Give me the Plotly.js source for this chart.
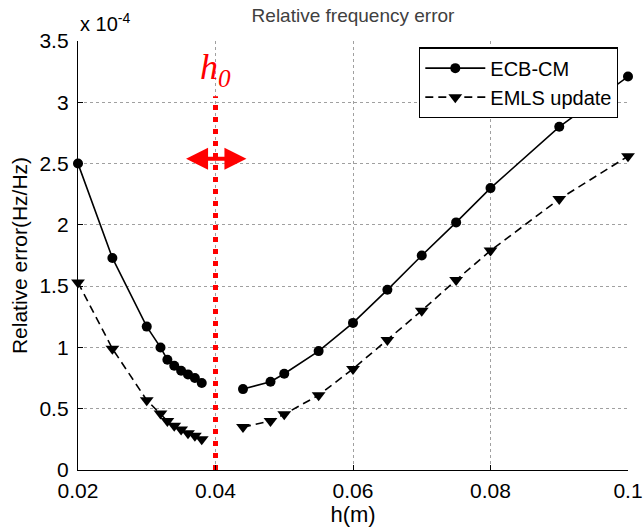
<!DOCTYPE html>
<html>
<head>
<meta charset="utf-8">
<script src="https://cdn.plot.ly/plotly-3.0.1.min.js"></script>
<style>html,body{margin:0;padding:0;background:#fff;}#chart{width:643px;height:531px;}</style>
</head>
<body>
<div id="chart"></div>
<script>
// h (m)
const hValues = [0.02, 0.025, 0.03, 0.032, 0.033, 0.034, 0.035, 0.036, 0.037, 0.038, 0.04, 0.044, 0.048, 0.05, 0.055, 0.06, 0.065, 0.07, 0.075, 0.08, 0.09, 0.1];
// Relative error (x 1e-4), null = gap at h0
const ecbCM = [2.50, 1.73, 1.17, 1.00, 0.90, 0.85, 0.81, 0.78, 0.75, 0.71, null, 0.66, 0.72, 0.785, 0.97, 1.20, 1.47, 1.75, 2.02, 2.30, 2.80, 3.21];
const emlsUpdate = [1.53, 0.99, 0.57, 0.46, 0.40, 0.36, 0.33, 0.30, 0.28, 0.25, null, 0.35, 0.40, 0.455, 0.61, 0.825, 1.06, 1.30, 1.55, 1.79, 2.21, 2.56];
const seriesNames = ['ECB-CM', 'EMLS update'];
const xTicks = [0.02, 0.04, 0.06, 0.08, 0.1];
const xTickText = ['0.02', '0.04', '0.06', '0.08', '0.1'];
const yTicks = [0, 0.5, 1, 1.5, 2, 2.5, 3, 3.5];
const yTickText = ['0', '0.5', '1', '1.5', '2', '2.5', '3', '3.5'];
const h0 = 0.04;
const h0LineTop = 3.05;
const arrowY = 2.54;
const arrowSpan = [0.0355, 0.0445];

const traces = [
  {
    x: hValues, y: ecbCM, name: seriesNames[0], type: 'scatter', mode: 'lines+markers',
    line: {color: '#000', width: 1.6}, marker: {symbol: 'circle', size: 10, color: '#000'},
    cliponaxis: false
  },
  {
    x: hValues, y: emlsUpdate, name: seriesNames[1], type: 'scatter', mode: 'lines+markers',
    line: {color: '#000', width: 1.6, dash: '8px,5px'}, marker: {symbol: 'triangle-down', size: 12, color: '#000'},
    cliponaxis: false
  },
  {
    x: [h0, h0], y: [0, h0LineTop], type: 'scatter', mode: 'lines', showlegend: false,
    line: {color: '#ff0000', width: 5, dash: '5px,7px'}, hoverinfo: 'skip', cliponaxis: false
  }
];

const layout = {
  width: 643, height: 531,
  margin: {l: 78, r: 15, t: 41, b: 61},
  paper_bgcolor: '#fff', plot_bgcolor: '#fff',
  font: {family: 'Arial, Liberation Sans, sans-serif', color: '#000'},
  title: {text: 'Relative frequency error', x: 0.549, xanchor: 'center', y: 0.972, yanchor: 'middle',
          font: {size: 19, color: '#404040'}},
  xaxis: {
    range: [0.02, 0.1], tickvals: xTicks, ticktext: xTickText,
    showline: true, linecolor: '#000', linewidth: 1.2, mirror: false,
    ticks: 'inside', ticklen: 5, tickcolor: '#000',
    showgrid: true, gridcolor: '#a0a0a0', griddash: 'dot', gridwidth: 1,
    zeroline: false, tickfont: {size: 21}, ticklabelstandoff: 2,
    title: {text: 'h(m)', font: {size: 22}, standoff: 1}
  },
  yaxis: {
    range: [0, 3.5], tickvals: yTicks, ticktext: yTickText,
    showline: true, linecolor: '#000', linewidth: 1.2, mirror: false,
    ticks: 'inside', ticklen: 5, tickcolor: '#000',
    showgrid: true, gridcolor: '#a0a0a0', griddash: 'dot', gridwidth: 1,
    zeroline: false, tickfont: {size: 21}, ticklabelstandoff: 4,
    title: {text: 'Relative error(Hz/Hz)', font: {size: 21}, standoff: 6}
  },
  legend: {
    x: 0.982, xanchor: 'right', y: 0.985, yanchor: 'top',
    bgcolor: '#fff', bordercolor: '#000', borderwidth: 1.2,
    font: {size: 20}, tracegroupgap: 0, itemwidth: 60
  },
  annotations: [
    {x: 0, xref: 'paper', y: 1, yref: 'paper', xanchor: 'left', yanchor: 'bottom', yshift: 4,
     text: 'x 10<sup>-4</sup>', showarrow: false, font: {size: 20}},
    {x: h0, y: 3.27, xref: 'x', yref: 'y', text: '<i>h<sub>0</sub></i>', showarrow: false,
     font: {family: 'Liberation Serif, Times New Roman, serif', size: 36, color: '#ff0000'}},
    {x: arrowSpan[1], y: arrowY, ax: arrowSpan[0], ay: arrowY, xref: 'x', yref: 'y', axref: 'x', ayref: 'y',
     text: '', showarrow: true, arrowside: 'end+start', arrowhead: 2, arrowsize: 1.1, arrowwidth: 4, arrowcolor: '#ff0000',
     standoff: 0, startstandoff: 0}
  ],
  showlegend: true
};

Plotly.newPlot('chart', traces, layout, {displayModeBar: false, staticPlot: true});
</script>
</body>
</html>
